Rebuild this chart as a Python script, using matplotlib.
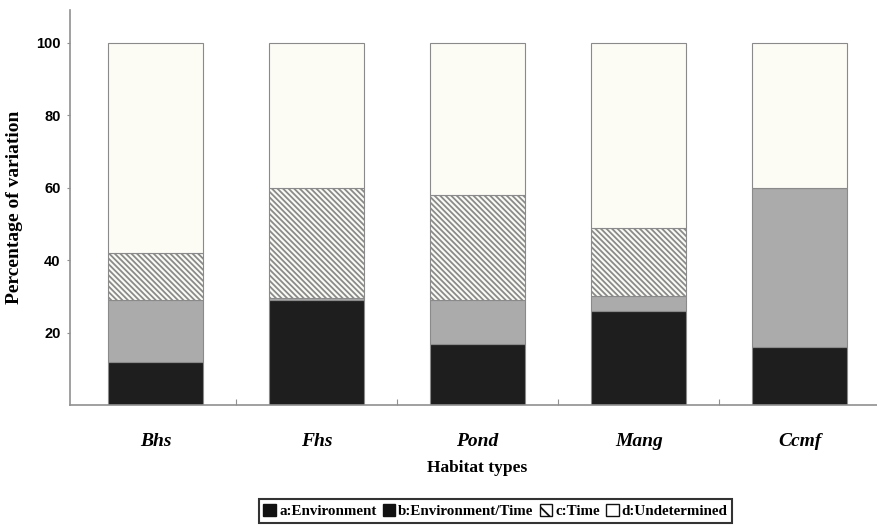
import numpy as np
import matplotlib
matplotlib.use("Agg")
import matplotlib.pyplot as plt
from matplotlib.patches import Patch

habitats = ["Bhs", "Fhs", "Pond", "Mang", "Ccmf"]
environment = [12, 29, 17, 26, 16]
env_time = [17, 0.5, 12, 4, 44]
time_only = [13, 30.5, 29, 19, 0]
undetermined = [58, 40, 42, 51, 40]

plt.rcParams["hatch.linewidth"] = 1.3
plt.rcParams["hatch.color"] = "#333333"

fig = plt.figure(figsize=(8.77, 5.29), dpi=100)
ax = fig.add_axes([0.080, 0.234, 0.92, 0.747])

x = np.arange(len(habitats))
w = 0.59
edge = "#8a8a8a"
bottom = np.zeros(len(habitats))
ax.bar(x, environment, w, bottom=bottom, color="#1e1e1e", edgecolor=edge, linewidth=0.8)
bottom += environment
ax.bar(x, env_time, w, bottom=bottom, color="#ababab", edgecolor=edge, linewidth=0.8)
bottom += env_time
ax.bar(x, time_only, w, bottom=bottom, color="#fbfbf6", edgecolor=edge, linewidth=0.8,
       hatch="\\" * 6)
bottom += time_only
ax.bar(x, undetermined, w, bottom=bottom, color="#fcfbf4", edgecolor=edge, linewidth=0.8)

ax.set_xlim(-0.53, 4.48)
ax.set_ylim(0, 109)

for s in ["top", "right"]:
    ax.spines[s].set_visible(False)
ax.spines["left"].set_color("#909090")
ax.spines["bottom"].set_color("#909090")
ax.spines["left"].set_linewidth(1.2)
ax.spines["bottom"].set_linewidth(1.2)

ax.set_yticks([20, 40, 60, 80, 100])
ax.set_yticklabels(["20", "40", "60", "80", "100"], fontfamily="Liberation Sans",
                   fontweight="bold", fontsize=10.5)
ax.tick_params(axis="y", length=2, width=0.8, color="#909090", pad=5)

ax.set_xticks(x[:-1] + 0.5)
ax.set_xticklabels([])
ax.tick_params(axis="x", direction="in", length=4, width=0.8, color="#909090")
for xi, name in zip(x, habitats):
    ax.text(xi, -10, name, ha="center", va="center", fontfamily="Liberation Serif",
            fontweight="bold", fontstyle="italic", fontsize=14)

ax.text(2.0, -17.3, "Habitat types", ha="center", va="center", fontfamily="Liberation Serif",
        fontweight="bold", fontsize=12.5)
ax.set_ylabel("Percentage of variation", fontfamily="Liberation Serif",
              fontweight="bold", fontsize=14, labelpad=9)

handles = [
    Patch(facecolor="#111111", edgecolor="#111111"),
    Patch(facecolor="#111111", edgecolor="#111111"),
    Patch(facecolor="white", edgecolor="#111111", hatch="\\\\"),
    Patch(facecolor="white", edgecolor="#111111"),
]
labels = ["a:Environment", "b:Environment/Time", "c:Time", "d:Undetermined"]
leg = fig.legend(handles, labels, loc="center", bbox_to_anchor=(0.565, 0.034), ncol=4,
                 frameon=True, fancybox=False, handlelength=0.85, handleheight=0.85,
                 handletextpad=0.2, columnspacing=0.4, borderpad=0.3,
                 prop={"family": "Liberation Serif", "weight": "bold", "size": 10.8})
leg.get_frame().set_edgecolor("black")
leg.get_frame().set_linewidth(1.5)

fig.savefig("out.png", dpi=100)
